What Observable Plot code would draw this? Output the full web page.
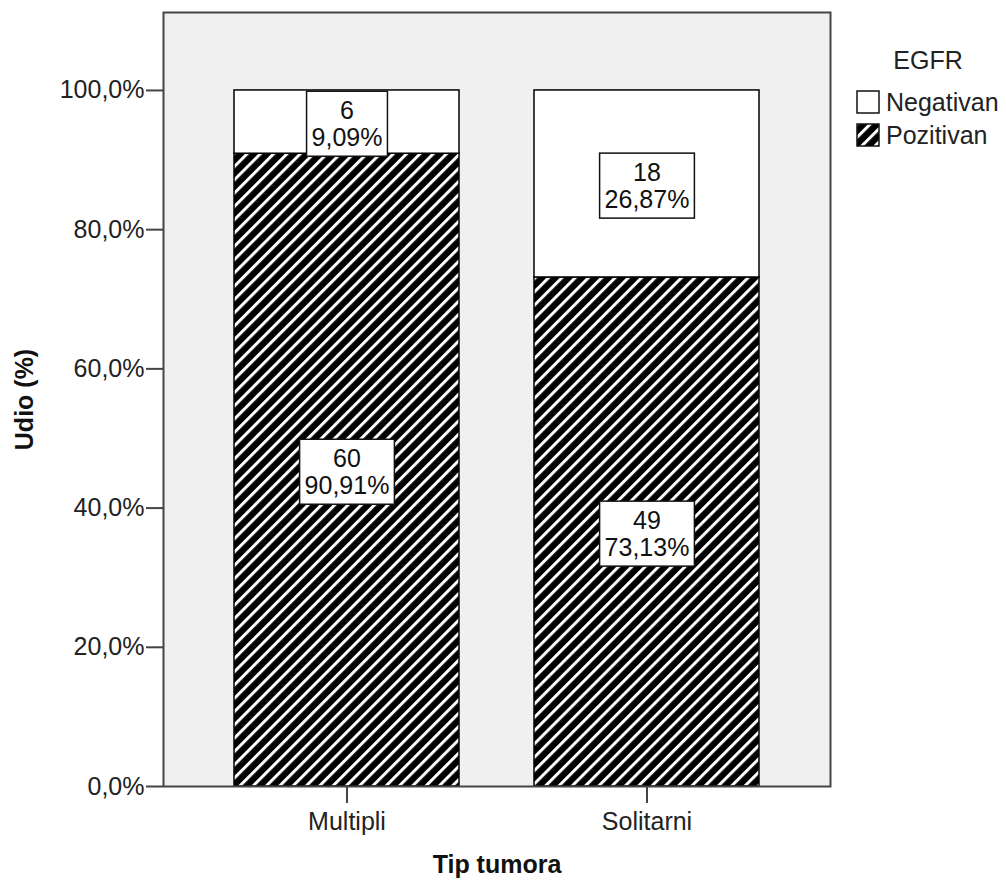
<!DOCTYPE html>
<html>
<head>
<meta charset="utf-8">
<script src="https://cdn.jsdelivr.net/npm/d3@7"></script>
<script src="https://cdn.jsdelivr.net/npm/@observablehq/plot@0.6"></script>
<style>
  html, body { margin: 0; padding: 0; background: #fff; }
  #wrap { position: relative; width: 1006px; height: 883px; font-family: "Liberation Sans", Arial, sans-serif; color: #222; }
  #legend { position: absolute; left: 856px; top: 46px; font-size: 25px; }
  #legend .title { position: absolute; left: 72px; top: 0; text-align: center; white-space: nowrap; transform: translateX(-50%); }
  #legend .item { position: absolute; left: 0; white-space: nowrap; display: flex; align-items: center; height: 26px; }
  #legend .item svg { margin-right: 6px; }
</style>
</head>
<body>
<svg width="0" height="0" style="position:absolute">
  <defs>
    <pattern id="hatch" patternUnits="userSpaceOnUse" width="9.4" height="9.4" patternTransform="rotate(45)">
      <rect x="0" y="0" width="9.4" height="9.4" fill="#000"></rect>
      <rect x="0" y="0" width="3" height="9.4" fill="#fff"></rect>
    </pattern>
  </defs>
</svg>
<div id="wrap">
  <div id="chart"></div>
  <div id="legend"></div>
</div>
<script>
// ---- Data ----
const categories = ["Multipli", "Solitarni"];
const egfrLevels = ["Pozitivan", "Negativan"];
const pozitivanCounts = [60, 49];
const negativanCounts = [6, 18];
const pozitivanPct = [90.91, 73.13];
const negativanPct = [9.09, 26.87];
const yTicks = [0, 20, 40, 60, 80, 100];

const rows = [];
categories.forEach((c, i) => {
  rows.push({cat: c, egfr: "Pozitivan", n: pozitivanCounts[i], pct: pozitivanPct[i]});
  rows.push({cat: c, egfr: "Negativan", n: negativanCounts[i], pct: negativanPct[i]});
});

const fmtTick = d => d.toFixed(1).replace(".", ",") + "%";
const fmtPct = d => d.toFixed(2).replace(".", ",") + "%";

const chart = Plot.plot({
  width: 1006,
  height: 883,
  marginLeft: 163,
  marginRight: 176,
  marginTop: 12,
  marginBottom: 97,
  style: {fontFamily: "'Liberation Sans', Arial, sans-serif", fontSize: "25px", color: "#222", background: "transparent"},
  x: {domain: categories, paddingInner: 0.25, paddingOuter: 0.233, label: null},
  y: {domain: [0, 111.2], label: null},
  color: {domain: ["Negativan", "Pozitivan"], range: ["white", "url(#hatch)"]},
  marks: [
    Plot.frame({fill: "#f0f0f0", stroke: "none"}),
    Plot.barY(rows, Plot.stackY({x: "cat", y: "pct", fill: "egfr", stroke: "black", strokeWidth: 1.5})),
    Plot.text(rows, Plot.stackY({x: "cat", y: "pct", text: d => `${d.n}\n${fmtPct(d.pct)}`, lineHeight: 1.08, dy: 2, fill: "#111", ariaDescription: "seglabels"})),
    Plot.frame({stroke: "#444", strokeWidth: 2}),
    Plot.axisY({ticks: yTicks, tickFormat: fmtTick, tickSize: 17, tickPadding: 2, stroke: "#444", strokeWidth: 2, label: null}),
    Plot.axisX({tickSize: 17, tickPadding: 9, stroke: "#444", strokeWidth: 2, label: null}),
    Plot.text(["Tip tumora"], {frameAnchor: "bottom", dy: 86, fontWeight: "bold", fill: "#111"}),
    Plot.text(["Udio (%)"], {frameAnchor: "left", dx: -139, rotate: -90, textAnchor: "middle", fontWeight: "bold", fill: "#111"})
  ]
});
document.getElementById("chart").appendChild(chart);

// white boxes behind segment labels
const svg = d3.select(chart);
svg.selectAll("g[aria-description=seglabels] text").each(function() {
  const bb = this.getBBox();
  const padX = 5, padY = 5;
  d3.select(this.parentNode).insert("rect", () => this)
    .attr("x", bb.x - padX).attr("y", bb.y - padY)
    .attr("width", bb.width + 2 * padX).attr("height", bb.height + 2 * padY)
    .attr("fill", "white").attr("stroke", "#111").attr("stroke-width", 1.5)
    .attr("transform", this.getAttribute("transform"));
});

// legend
const legend = document.getElementById("legend");
const title = document.createElement("div");
title.className = "title";
title.textContent = "EGFR";
legend.appendChild(title);
const legendItems = [["Negativan", "white"], ["Pozitivan", "url(#hatch)"]];
legendItems.forEach(([name, fill], i) => {
  const it = document.createElement("div");
  it.className = "item";
  it.style.top = (43 + i * 33) + "px";
  it.innerHTML = `<svg width="24" height="24"><rect x="1" y="1" width="22" height="22" fill="${fill}" stroke="#111" stroke-width="1.5"></rect></svg><span>${name}</span>`;
  legend.appendChild(it);
});
</script>
</body>
</html>
